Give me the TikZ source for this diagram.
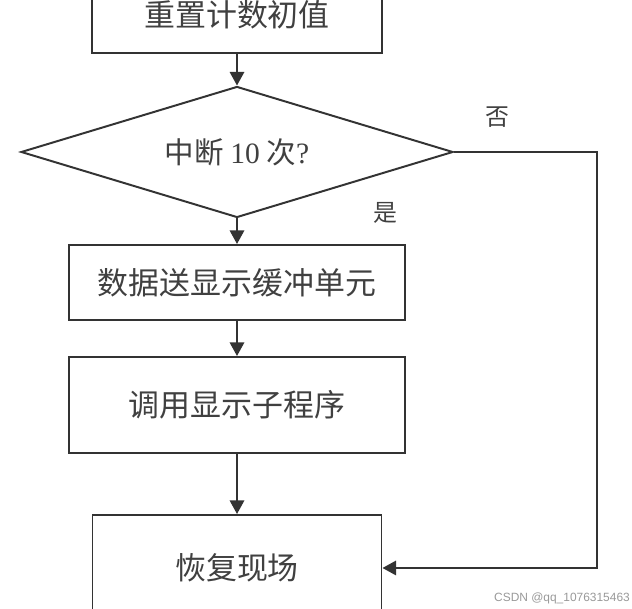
\documentclass[tikz,border=0pt]{standalone}
\usepackage{fontspec}
\setmainfont{Liberation Serif}
\newfontfamily\cjk{Noto Sans CJK SC}
\newfontfamily\wmfont{Liberation Sans}
\usetikzlibrary{shapes.geometric,arrows.meta}

\begin{document}
\begin{tikzpicture}[black!80,line width=1.4pt,>={Triangle[length=0.34cm,width=0.36cm]},
    box/.style={draw,rectangle,inner sep=0pt,text=black!75,font=\cjk\fontsize{22}{26}\selectfont},
    yesno/.style={text=black!75,font=\cjk\fontsize{17}{20}\selectfont}]
          \clip (0,0) rectangle (15.8,15.225);
          \node[box,minimum width=7.25cm,minimum height=1.9cm] (init) at (5.925,14.85) {重置计数初值};
          \node[draw,diamond,aspect=3.3,inner sep=0pt,minimum width=10.8cm,minimum height=3.275cm,
                text=black!75,font=\cjk\fontsize{21}{25}\selectfont] (chk) at (5.925,11.425) {中断 {\rmfamily 10} 次{\rmfamily ?}};
          \node[box,minimum width=8.4cm,minimum height=1.875cm] (buf) at (5.925,8.1625) {数据送显示缓冲单元};
          \node[box,minimum width=8.4cm,minimum height=2.4cm] (call) at (5.925,5.1) {调用显示子程序};
          \node[box,minimum width=7.225cm,minimum height=2.65cm] (restore) at (5.925,1.025) {恢复现场};
          \node[yesno] (no) at (12.425,12.3) {否};
          \node[yesno] (yes) at (9.625,9.9) {是};
          \coordinate (turn) at (14.925,11.425);
          \path[->] (init) edge (chk)  (chk) edge (buf)  (buf) edge (call)  (call) edge (restore);
          \draw[->] (chk.east) -- (turn) |- (restore.east);
          \node[text=black!40,font=\wmfont\fontsize{8.5}{10}\selectfont] (mark) at (14.05,0.275) {CSDN @qq\_1076315463};
        \end{tikzpicture}
\end{document}
